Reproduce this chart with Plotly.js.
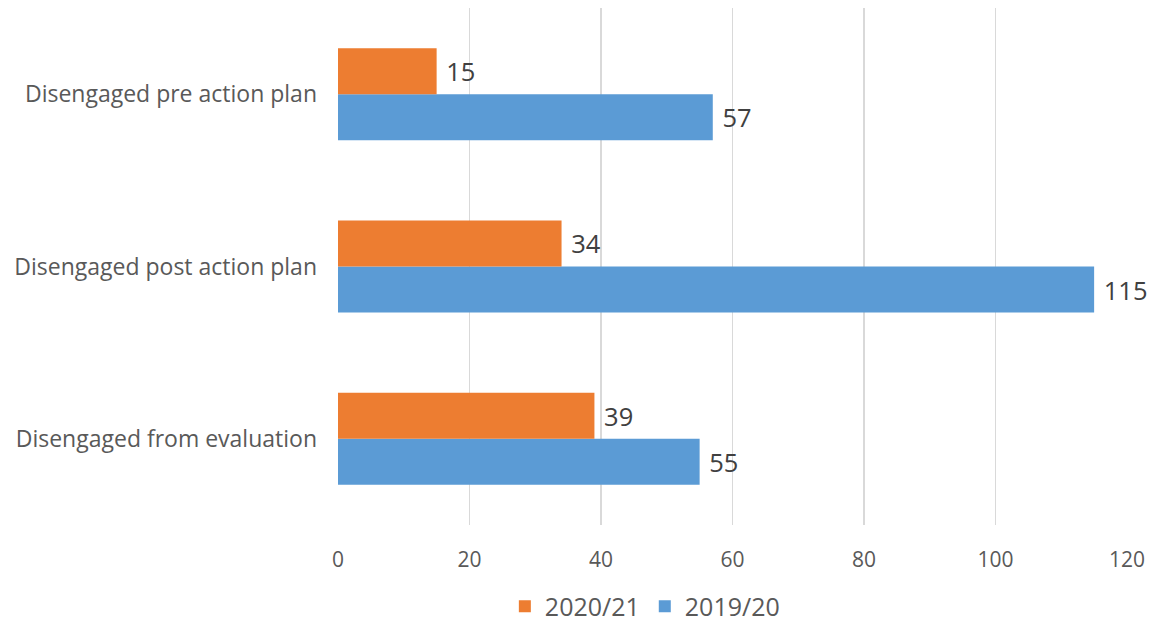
<!DOCTYPE html>
<html>
<head>
<meta charset="utf-8">
<script src="https://cdn.plot.ly/plotly-3.0.1.min.js"></script>
<style>html,body{margin:0;padding:0;background:#fff;}#chart{width:1150px;height:626px;}</style>
</head>
<body>
<div id="chart"></div>
<script>
const categories = ["Disengaged from evaluation", "Disengaged post action plan", "Disengaged pre action plan"];
const values2019 = [55, 115, 57];
const values2020 = [39, 34, 15];
const xTicks = [0, 20, 40, 60, 80, 100, 120];

const FONT = "Open Sans, Liberation Sans, sans-serif";

const traces = [
  {
    type: "bar", orientation: "h", name: "2019/20",
    y: categories, x: values2019,
    marker: {color: "#5B9BD5"},
    text: values2019.map(String), textposition: "outside",
    texttemplate: " %{x}",
    textfont: {family: FONT, size: 25.5, color: "#404040"},
    cliponaxis: false, legendrank: 2, hoverinfo: "none"
  },
  {
    type: "bar", orientation: "h", name: "2020/21",
    y: categories, x: values2020,
    marker: {color: "#ED7D31"},
    text: values2020.map(String), textposition: "outside",
    texttemplate: " %{x}",
    textfont: {family: FONT, size: 25.5, color: "#404040"},
    cliponaxis: false, legendrank: 1, hoverinfo: "none"
  }
];

const layout = {
  width: 1150, height: 626,
  margin: {l: 337.5, r: 23.3, t: 8, b: 101, pad: 0, autoexpand: false},
  paper_bgcolor: "#ffffff", plot_bgcolor: "#ffffff",
  barmode: "group", bargap: 0.466, bargroupgap: 0,
  font: {family: FONT, color: "#595959"},
  xaxis: {
    range: [0, 120], tickvals: xTicks, ticktext: xTicks.map(String),
    showgrid: true, gridcolor: "#d9d9d9", gridwidth: 1.5,
    zeroline: false, showline: false, ticks: "",
    ticklabelstandoff: 20, automargin: false,
    tickfont: {family: FONT, size: 21, color: "#595959"},
    fixedrange: true
  },
  yaxis: {
    type: "category", categoryorder: "array", categoryarray: categories,
    range: [-0.5, 2.5], automargin: false,
    showgrid: false, zeroline: false, showline: false, ticks: "",
    ticklabelstandoff: 20,
    tickfont: {family: FONT, size: 23, color: "#595959"},
    fixedrange: true
  },
  showlegend: true,
  legend: {
    orientation: "h",
    xref: "container", yref: "container",
    x: 0.439, xanchor: "left", y: 0.031, yanchor: "middle",
    font: {family: FONT, size: 25, color: "#595959"},
    itemwidth: 30, tracegroupgap: 0
  }
};

Plotly.newPlot("chart", traces, layout, {staticPlot: true, displayModeBar: false});
</script>
</body>
</html>
